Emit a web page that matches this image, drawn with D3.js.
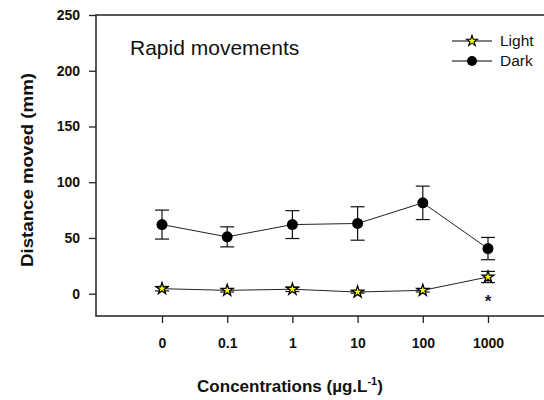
<!DOCTYPE html>
<html>
<head>
<meta charset="utf-8">
<script src="https://cdn.jsdelivr.net/npm/d3@7"></script>
<style>
  body { margin: 0; background: #fff; }
  text { font-family: Arial, "Liberation Sans", sans-serif; }
</style>
</head>
<body>
<div id="chart"></div>
<script>
// values
var concentrations = ["0", "0.1", "1", "10", "100", "1000"]
var darkMean = [62, 51, 62, 63, 81.5, 40.5]
var darkErr = [13, 9, 12.5, 15, 15, 10]
var lightMean = [4.5, 3, 4, 1.5, 3, 15]
var lightErr = [2, 1.5, 2, 1, 1.5, 5]
var yTicks = [0, 50, 100, 150, 200, 250]
var significant = ["1000"]

var width = 544
var height = 400
var plotLeft = 96, plotRight = 544, plotTop = 15, plotBottom = 316

var svg = d3.select("#chart")
  .append("svg")
    .attr("width", width)
    .attr("height", height)

var x = d3.scalePoint()
  .domain(concentrations)
  .range([162, 488])

var y = d3.scaleLinear()
  .domain([-20, 250])
  .range([plotBottom, plotTop])

// y axis
var yAxis = svg.append("g")
  .attr("transform", "translate(" + plotLeft + ",0)")
  .call(d3.axisLeft(y).tickValues(yTicks).tickSize(7).tickPadding(9))
yAxis.select(".domain").remove()
yAxis.selectAll("line").attr("stroke", "#222").attr("stroke-width", 1.3)
yAxis.selectAll("text")
  .style("font-size", "14px").style("font-weight", "bold").attr("fill", "#111")

// x axis
var xAxis = svg.append("g")
  .attr("transform", "translate(0," + plotBottom + ")")
  .call(d3.axisBottom(x).tickSize(7).tickPadding(15))
xAxis.select(".domain").remove()
xAxis.selectAll("line").attr("stroke", "#222").attr("stroke-width", 1.3)
xAxis.selectAll("text")
  .style("font-size", "14px").style("font-weight", "bold").attr("fill", "#111")

// frame: left, top, bottom
svg.append("path")
  .attr("d", "M" + plotRight + "," + plotTop + "H" + plotLeft + "V" + plotBottom + "H" + plotRight)
  .attr("fill", "none")
  .attr("stroke", "#222")
  .attr("stroke-width", 1.5)

var line = d3.line()
  .x(function(d, i) { return x(concentrations[i]) })
  .y(function(d) { return y(d) })

function drawSeries(mean, err, cls) {
  var g = svg.append("g").attr("class", cls)
  g.append("path")
    .datum(mean)
    .attr("d", line)
    .attr("fill", "none")
    .attr("stroke", "#222")
    .attr("stroke-width", 1)
  var eb = g.selectAll(".err")
    .data(mean)
    .enter()
    .append("g")
  eb.append("line")
    .attr("x1", function(d, i) { return x(concentrations[i]) })
    .attr("x2", function(d, i) { return x(concentrations[i]) })
    .attr("y1", function(d, i) { return y(d + err[i]) })
    .attr("y2", function(d, i) { return y(d - err[i]) })
    .attr("stroke", "#111").attr("stroke-width", 1.2)
  eb.append("line")
    .attr("x1", function(d, i) { return x(concentrations[i]) - 7 })
    .attr("x2", function(d, i) { return x(concentrations[i]) + 7 })
    .attr("y1", function(d, i) { return y(d + err[i]) })
    .attr("y2", function(d, i) { return y(d + err[i]) })
    .attr("stroke", "#111").attr("stroke-width", 1.2)
  eb.append("line")
    .attr("x1", function(d, i) { return x(concentrations[i]) - 7 })
    .attr("x2", function(d, i) { return x(concentrations[i]) + 7 })
    .attr("y1", function(d, i) { return y(d - err[i]) })
    .attr("y2", function(d, i) { return y(d - err[i]) })
    .attr("stroke", "#111").attr("stroke-width", 1.2)
  return g
}

var star = d3.symbol().type(d3.symbolStar).size(42)

var dark = drawSeries(darkMean, darkErr, "dark")
dark.selectAll(".pt")
  .data(darkMean)
  .enter()
  .append("circle")
    .attr("cx", function(d, i) { return x(concentrations[i]) })
    .attr("cy", function(d) { return y(d) })
    .attr("r", 5.5)
    .attr("fill", "#000")

var light = drawSeries(lightMean, lightErr, "light")
light.selectAll(".pt")
  .data(lightMean)
  .enter()
  .append("path")
    .attr("d", star)
    .attr("transform", function(d, i) { return "translate(" + x(concentrations[i]) + "," + y(d) + ")" })
    .attr("fill", "#ffff00")
    .attr("stroke", "#000")
    .attr("stroke-width", 1.3)

// significance mark
svg.selectAll(".sig")
  .data(significant)
  .enter()
  .append("text")
    .attr("x", function(d) { return x(d) })
    .attr("y", 307)
    .attr("text-anchor", "middle")
    .style("font-size", "17px")
    .style("font-weight", "bold")
    .attr("fill", "#1a1a3a")
    .text("*")

// legend
var legend = [
  { name: "Light", y: 41 },
  { name: "Dark", y: 61 }
]
var lg = svg.selectAll(".legend")
  .data(legend)
  .enter()
  .append("g")
lg.append("line")
  .attr("x1", 452).attr("x2", 492)
  .attr("y1", function(d) { return d.y }).attr("y2", function(d) { return d.y })
  .attr("stroke", "#000").attr("stroke-width", 1.2)
lg.append("text")
  .attr("x", 500)
  .attr("y", function(d) { return d.y + 5 })
  .style("font-size", "15.5px")
  .attr("fill", "#111")
  .text(function(d) { return d.name })
lg.filter(function(d) { return d.name == "Light" })
  .append("path")
    .attr("d", d3.symbol().type(d3.symbolStar).size(36))
    .attr("transform", function(d) { return "translate(472," + d.y + ")" })
    .attr("fill", "#ffff00").attr("stroke", "#000").attr("stroke-width", 1.1)
lg.filter(function(d) { return d.name == "Dark" })
  .append("circle")
    .attr("cx", 472).attr("cy", function(d) { return d.y })
    .attr("r", 5).attr("fill", "#000")

// panel title
svg.append("text")
  .attr("x", 130)
  .attr("y", 55)
  .style("font-size", "21px")
  .attr("fill", "#111")
  .text("Rapid movements")

// axis titles
svg.append("text")
  .attr("transform", "translate(33,170) rotate(-90)")
  .attr("text-anchor", "middle")
  .attr("textLength", 194)
  .attr("lengthAdjust", "spacingAndGlyphs")
  .style("font-size", "16.5px")
  .style("font-weight", "bold")
  .attr("fill", "#111")
  .text("Distance moved (mm)")

var xt = svg.append("text")
  .attr("x", 290)
  .attr("y", 392)
  .attr("text-anchor", "middle")
  .style("font-size", "17px")
  .style("font-weight", "bold")
  .attr("fill", "#111")
xt.append("tspan").text("Concentrations (µg.L")
xt.append("tspan").attr("dy", -7).style("font-size", "11px").text("-1")
xt.append("tspan").attr("dy", 7).text(")")
</script>
</body>
</html>
